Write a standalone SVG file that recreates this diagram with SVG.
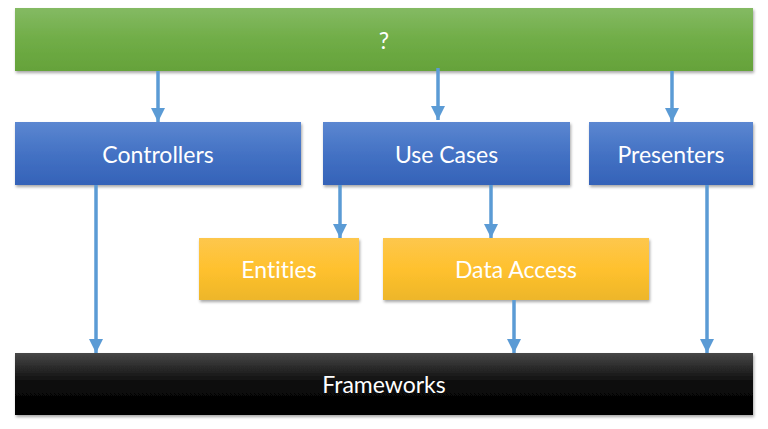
<svg xmlns="http://www.w3.org/2000/svg" width="768" height="429" viewBox="0 0 768 429">
<defs>
<linearGradient id="gGreen" x1="0" y1="0" x2="0" y2="1"><stop offset="0" stop-color="#84BA63"/><stop offset="0.5" stop-color="#70AD47"/><stop offset="1" stop-color="#65A23A"/></linearGradient>
<linearGradient id="gBlue" x1="0" y1="0" x2="0" y2="1"><stop offset="0" stop-color="#5B87D1"/><stop offset="0.5" stop-color="#4472C4"/><stop offset="1" stop-color="#3462B8"/></linearGradient>
<linearGradient id="gYellow" x1="0" y1="0" x2="0" y2="1"><stop offset="0" stop-color="#FDC74D"/><stop offset="0.5" stop-color="#FFC12E"/><stop offset="1" stop-color="#EDB629"/></linearGradient>
<linearGradient id="gBlack" x1="0" y1="0" x2="0" y2="1"><stop offset="0" stop-color="#474747"/><stop offset="0.5" stop-color="#0a0a0a"/><stop offset="1" stop-color="#000000"/></linearGradient>
<filter id="sh" x="-5%" y="-10%" width="110%" height="130%"><feDropShadow dx="1" dy="2" stdDeviation="1.5" flood-color="#000" flood-opacity="0.35"/></filter>
<marker id="ah" viewBox="0 0 10 10" refX="10" refY="5" markerWidth="4" markerHeight="4" markerUnits="strokeWidth" orient="auto"><path d="M0,0 L10,5 L0,10 z" fill="#5B9BD5"/></marker>
</defs>
<style>
.lbl{font-family:"Lato","Open Sans","Liberation Sans",sans-serif;font-size:23px;fill:#fff;text-anchor:middle;dominant-baseline:central;font-variant-ligatures:none}
.c{stroke:#5B9BD5;stroke-width:3.5;fill:none;marker-end:url(#ah)}
</style>
<rect width="768" height="429" fill="#fff"/>
<g id="top"><rect x="15" y="8" width="738" height="63" fill="url(#gGreen)" filter="url(#sh)"/><text class="lbl" x="384" y="39.5">?</text></g>
<g id="controllers"><rect x="15" y="122" width="286" height="63" fill="url(#gBlue)" filter="url(#sh)"/><text class="lbl" x="158" y="153.5">Controllers</text></g>
<g id="usecases"><rect x="323" y="122" width="247" height="63" fill="url(#gBlue)" filter="url(#sh)"/><text class="lbl" x="446.5" y="153.5">Use Cases</text></g>
<g id="presenters"><rect x="589" y="122" width="164" height="63" fill="url(#gBlue)" filter="url(#sh)"/><text class="lbl" x="671" y="153.5">Presenters</text></g>
<g id="entities"><rect x="199" y="238" width="160" height="62" fill="url(#gYellow)" filter="url(#sh)"/><text class="lbl" x="279" y="269">Entities</text></g>
<g id="dataaccess"><rect x="383" y="238" width="266" height="62" fill="url(#gYellow)" filter="url(#sh)"/><text class="lbl" x="516" y="269">Data Access</text></g>
<g id="frameworks"><rect x="15" y="353" width="738" height="62" fill="url(#gBlack)" filter="url(#sh)"/><text class="lbl" x="384" y="384">Frameworks</text></g>
<g id="connectors">
<line class="c" x1="158" y1="71" x2="158" y2="122"/>
<line class="c" x1="438" y1="68" x2="438" y2="120"/>
<line class="c" x1="672" y1="71" x2="672" y2="122"/>
<line class="c" x1="96" y1="185" x2="96" y2="353"/>
<line class="c" x1="340" y1="185" x2="340" y2="238"/>
<line class="c" x1="491" y1="185" x2="491" y2="238"/>
<line class="c" x1="514" y1="300" x2="514" y2="353"/>
<line class="c" x1="707" y1="185" x2="707" y2="353"/>
</g>
</svg>
